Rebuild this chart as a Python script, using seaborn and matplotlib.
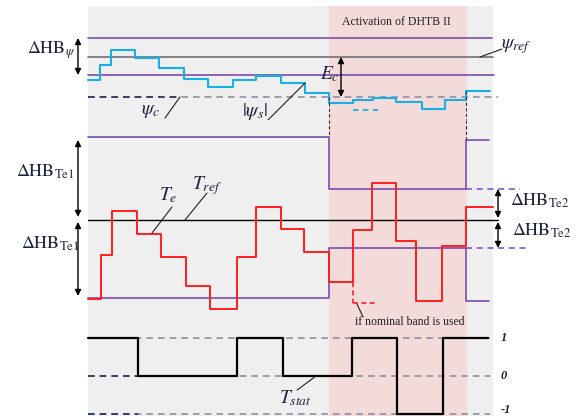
import matplotlib
matplotlib.use("Agg")
import matplotlib.pyplot as plt
import pandas as pd
import seaborn as sns

# ---- signals (shared time base, one unit per step of the drawing grid) ----
psi_edges = [0, 12, 23, 47, 71, 96, 120, 145, 168, 193, 217, 241, 265, 285, 308, 334, 357, 378, 402]
psi_values = [0.77, 0.92, 1.07, 0.99, 0.89, 0.78, 0.70, 0.77, 0.81, 0.74, 0.64,
              0.54, 0.57, 0.59, 0.55, 0.48, 0.57, 0.66]
psi_ref = 1.00
psi_band_hi = 1.19
psi_band_lo = 0.82
psi_c = 0.60
psi_nominal = 0.47
psi_nominal_span = [265, 290]

te_edges = [0, 13, 24, 49, 73, 98, 122, 149, 168, 193, 216, 241, 265, 284, 308, 328, 354, 378, 405]
te_values = [-0.79, -0.35, 0.09, -0.14, -0.37, -0.66, -0.89, -0.37, 0.13, -0.09,
             -0.32, -0.62, -0.10, 0.37, -0.21, -0.81, -0.26, 0.13]
te_ref = 0.0
band_edges = [0, 241, 378, 401]
band_hi = [0.83, 0.31, 0.80]
band_lo = [-0.78, -0.28, -0.81]
te_nominal = -0.83
te_nominal_span = [265, 290]

tstat_edges = [0, 50, 149, 195, 264, 309, 355, 400]
tstat_values = [1, 0, 1, 0, 1, -1, 1]
tstat_levels = [1, 0, -1]
tstat_labels = ["1", "0", "-1"]
tstat_label_pos = [1.0, 0.0, -0.88]

panel_span = [0, 405]
dhtb_span = [241, 379]

# ---- style ----
sns.set_theme(style="white")
plt.rcParams["font.family"] = ["Liberation Serif", "DejaVu Serif"]
plt.rcParams["mathtext.fontset"] = "stix"

PURPLE = "#7e4bb0"
CYAN = "#18aee8"
RED = "#ff1f1f"
NAVY = "#24305e"
GREYDASH = "#8c90a4"
TXT = "#1d2340"
PANEL = "#efefef"
PINK = "#f2dbd9"

fig = plt.figure(figsize=(5.79, 4.16), dpi=100)
H = 416.0
ax_psi = fig.add_axes([0, 1 - 120 / H, 1, 120 / H])
ax_te = fig.add_axes([0, 1 - 322 / H, 1, 202 / H])
ax_st = fig.add_axes([0, 0, 1, 94 / H])

XLIM = (-88, 491)
ax_psi.set_ylim(0.37, 1.57)
ax_te.set_ylim(-1.02, 1.00)
ax_st.set_ylim(-1.05, 1.42)


def step(ax, edges, values, **kw):
    df = pd.DataFrame({"t": edges, "v": list(values) + [values[-1]]})
    sns.lineplot(data=df, x="t", y="v", drawstyle="steps-post", estimator=None,
                 sort=False, ax=ax, **kw)


def arrow(ax, t, v0, v1):
    ax.annotate("", xy=(t, v1), xytext=(t, v0), annotation_clip=False,
                arrowprops=dict(arrowstyle="<|-|>", color="black", lw=1.0,
                                mutation_scale=9, shrinkA=0, shrinkB=0))


def leader(ax, p0, p1):
    ax.plot([p0[0], p1[0]], [p0[1], p1[1]], color="#222222", lw=0.8, clip_on=False)


for ax, top in ((ax_psi, 0.95), (ax_te, 1.0), (ax_st, 1.0)):
    ax.axvspan(*panel_span, ymin=0, ymax=top, color=PANEL, lw=0, zorder=0)
    ax.axvspan(*dhtb_span, ymin=0, ymax=top, color=PINK, lw=0, zorder=0.5)

# ---- flux panel ----
ax = ax_psi
ax.plot([0, 404], [psi_band_hi] * 2, color=PURPLE, lw=1.2)
ax.plot([0, 406], [psi_band_lo] * 2, color=PURPLE, lw=1.2)
ax.plot([0, 405], [psi_ref] * 2, color="#6e7080", lw=1.2)
ax.plot([0, 410], [psi_c] * 2, color=GREYDASH, lw=1.2, dashes=(4, 3))
ax.plot([0, 92], [psi_c] * 2, color=NAVY, lw=1.2, dashes=(4, 3))
step(ax, psi_edges, psi_values, color=CYAN, lw=1.5)
ax.plot(psi_nominal_span, [psi_nominal] * 2, color=CYAN, lw=1.3, dashes=(3, 2.5))
ax.plot([241, 241], [psi_c, 0.37], color="#333333", lw=0.8, dashes=(3, 2), clip_on=False)
ax.plot([378, 378], [0.66, 0.37], color="#333333", lw=0.8, dashes=(3, 2), clip_on=False)
arrow(ax, -10, psi_band_hi, psi_band_lo)
arrow(ax, 253, psi_ref, psi_c)
ax.text(-12, 1.07, r"$\Delta\mathrm{HB}_{\psi}$", fontsize=13, color=TXT,
        ha="right", va="center")
ax.text(242, 0.83, r"$E_c$", fontsize=14, color=TXT, ha="center", va="center")
ax.text(308, 1.35, "Activation of DHTB II", fontsize=8.5, color="#222222",
        ha="center", va="center")
ax.text(413, 1.10, r"$\psi_{ref}$", fontsize=14, color=TXT, ha="left", va="center")
leader(ax, (392, psi_ref), (414, 1.08))
ax.text(63, 0.46, r"$\psi_c$", fontsize=14, color=TXT, ha="center", va="center")
leader(ax, (77, 0.39), (92, psi_c))
ax.text(167, 0.46, r"$|\psi_s|$", fontsize=14, color=TXT, ha="center", va="center")
leader(ax, (180, 0.37), (217, 0.74))

# ---- torque panel ----
ax = ax_te
step(ax, band_edges, band_hi, color=PURPLE, lw=1.2)
step(ax, band_edges, band_lo, color=PURPLE, lw=1.2)
ax.plot([378, 432], [band_hi[1]] * 2, color=PURPLE, lw=1.1, dashes=(4, 3))
ax.plot([378, 439], [band_lo[1]] * 2, color=PURPLE, lw=1.1, dashes=(4, 3))
ax.plot([0, 410], [te_ref] * 2, color="black", lw=1.0)
step(ax, te_edges, te_values, color=RED, lw=1.4)
ax.plot([te_nominal_span[0]] * 2, [te_values[11], te_nominal], color=RED, lw=1.2,
        dashes=(3, 2))
ax.plot(te_nominal_span, [te_nominal] * 2, color=RED, lw=1.2, dashes=(3, 2))
ax.plot([241, 241], [1.0, band_hi[0]], color="#333333", lw=0.8, dashes=(3, 2), clip_on=False)
ax.plot([378, 378], [1.0, band_hi[2]], color="#333333", lw=0.8, dashes=(3, 2), clip_on=False)
arrow(ax, -10, 0.80, 0.03)
arrow(ax, -10, -0.02, -0.76)
arrow(ax, 410, band_hi[1], 0.02)
arrow(ax, 410, -0.02, band_lo[1])
ax.text(-13, 0.48, r"$\Delta\mathrm{HB}_{\mathrm{Te1}}$", fontsize=13, color=TXT,
        ha="right", va="center")
ax.text(-8, -0.24, r"$\Delta\mathrm{HB}_{\mathrm{Te1}}$", fontsize=13, color=TXT,
        ha="right", va="center")
ax.text(422, 0.19, r"$\Delta\mathrm{HB}_{\mathrm{Te2}}$", fontsize=13, color=TXT,
        ha="left", va="center")
ax.text(424, -0.11, r"$\Delta\mathrm{HB}_{\mathrm{Te2}}$", fontsize=13, color=TXT,
        ha="left", va="center")
ax.text(80, 0.25, r"$T_e$", fontsize=14, color=TXT, ha="center", va="center")
leader(ax, (64, -0.13), (84, 0.13))
ax.text(119, 0.34, r"$T_{ref}$", fontsize=14, color=TXT, ha="center", va="center")
leader(ax, (97, 0.0), (119, 0.27))
leader(ax, (269, -0.84), (275, -0.97))

# ---- switching-state panel ----
ax = ax_st
for lvl, lab, pos in zip(tstat_levels, tstat_labels, tstat_label_pos):
    ax.plot([0, 402], [lvl] * 2, color=GREYDASH, lw=1.2, dashes=(4, 3), clip_on=False)
    ax.plot([0, 50], [lvl] * 2, color=NAVY, lw=1.2, dashes=(4, 3), clip_on=False)
    ax.text(413, pos, lab, fontsize=9, fontweight="bold", fontstyle="italic",
            color=TXT, ha="left", va="center", clip_on=False)
step(ax, tstat_edges, tstat_values, color="black", lw=1.6)
ax.text(207, -0.58, r"$T_{stat}$", fontsize=14, color=TXT, ha="center", va="center")
leader(ax, (209, -0.37), (228, 0.0))
# note for the torque panel sits on the panel boundary, so it is drawn last
ax.text(267, 1.42, "if nominal band is used", fontsize=8.5, color="#222222",
        ha="left", va="center", clip_on=False)

for ax in (ax_psi, ax_te, ax_st):
    ax.set_xlim(*XLIM)
    ax.set_axis_off()

fig.savefig("out.png", dpi=100)
